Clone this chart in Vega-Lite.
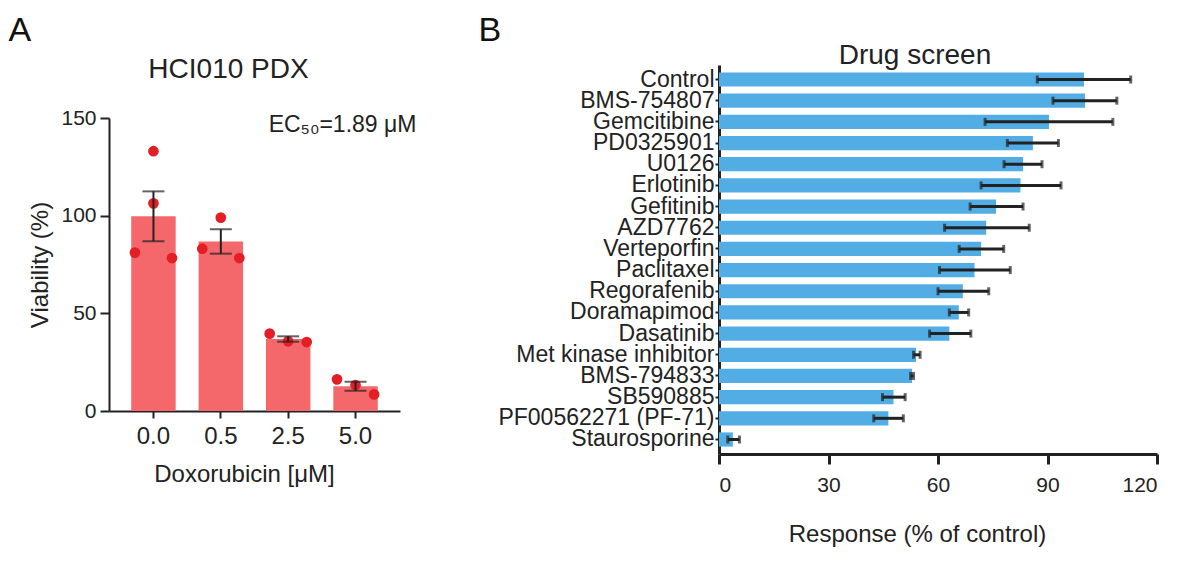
{
  "$schema": "https://vega.github.io/schema/vega-lite/v6.json",
  "background": "white",
  "padding": {"left": 8, "top": 13, "right": 10, "bottom": 10},
  "config": {
    "font": "Liberation Sans",
    "view": {"stroke": null},
    "axis": {"domainColor": "#222", "tickColor": "#222", "labelColor": "#222", "titleColor": "#222", "grid": false, "labelFont": "Liberation Sans", "titleFont": "Liberation Sans", "titleFontWeight": "normal"},
    "title": {"font": "Liberation Sans", "fontWeight": "normal", "color": "#222"}
  },
  "datasets": {
    "viability": [
      {"dose": "0.0", "pos": "C", "v": 133.0},
      {"dose": "0.0", "pos": "C", "v": 106.3},
      {"dose": "0.0", "pos": "L", "v": 81.1},
      {"dose": "0.0", "pos": "R", "v": 78.3},
      {"dose": "0.5", "pos": "C", "v": 99.0},
      {"dose": "0.5", "pos": "L", "v": 83.1},
      {"dose": "0.5", "pos": "R", "v": 78.3},
      {"dose": "2.5", "pos": "L", "v": 39.6},
      {"dose": "2.5", "pos": "C", "v": 35.7},
      {"dose": "2.5", "pos": "R", "v": 35.3},
      {"dose": "5.0", "pos": "L", "v": 16.2},
      {"dose": "5.0", "pos": "C", "v": 13.3},
      {"dose": "5.0", "pos": "R", "v": 8.5}
    ],
    "screen": [
      {"drug": "Control", "resp": 100.0, "lo": 87.2, "hi": 112.8},
      {"drug": "BMS-754807", "resp": 100.3, "lo": 91.5, "hi": 109.0},
      {"drug": "Gemcitibine", "resp": 90.4, "lo": 72.9, "hi": 107.9},
      {"drug": "PD0325901", "resp": 86.0, "lo": 79.0, "hi": 93.0},
      {"drug": "U0126", "resp": 83.3, "lo": 78.1, "hi": 88.5},
      {"drug": "Erlotinib", "resp": 82.6, "lo": 71.8, "hi": 93.7},
      {"drug": "Gefitinib", "resp": 75.9, "lo": 68.8, "hi": 83.3},
      {"drug": "AZD7762", "resp": 73.2, "lo": 61.8, "hi": 85.0},
      {"drug": "Verteporfin", "resp": 71.8, "lo": 65.8, "hi": 78.0},
      {"drug": "Paclitaxel", "resp": 70.0, "lo": 60.4, "hi": 79.8},
      {"drug": "Regorafenib", "resp": 66.8, "lo": 60.0, "hi": 73.9},
      {"drug": "Doramapimod", "resp": 65.7, "lo": 63.1, "hi": 68.4},
      {"drug": "Dasatinib", "resp": 63.1, "lo": 57.7, "hi": 69.0},
      {"drug": "Met kinase inhibitor", "resp": 54.0, "lo": 53.3, "hi": 55.1},
      {"drug": "BMS-794833", "resp": 52.9, "lo": 52.5, "hi": 53.3},
      {"drug": "SB590885", "resp": 47.8, "lo": 44.8, "hi": 51.0},
      {"drug": "PF00562271 (PF-71)", "resp": 46.4, "lo": 42.4, "hi": 50.5},
      {"drug": "Staurosporine", "resp": 3.8, "lo": 2.4, "hi": 5.6}
    ]
  },
  "spacing": 61,
  "hconcat": [
    {
      "spacing": 8,
      "vconcat": [
        {
          "width": 1,
          "height": 1,
          "data": {"values": [{"label": "A"}]},
          "mark": {"type": "text", "fontSize": 34, "align": "left", "baseline": "top", "dx": -101, "color": "#111"},
          "encoding": {"text": {"field": "label", "type": "nominal"}}
        },
        {
          "title": {"text": "HCI010 PDX", "fontSize": 28, "frame": "group", "dx": -26, "offset": 23},
          "width": 291,
          "height": 293,
          "data": {"name": "viability"},
          "resolve": {"scale": {"x": "independent", "xOffset": "independent"}},
          "layer": [
            {
              "mark": {"type": "bar", "color": "#F4686C"},
              "encoding": {
                "x": {
                  "field": "dose", "type": "ordinal", "sort": ["0.0", "0.5", "2.5", "5.0"],
                  "scale": {"paddingInner": 0.34, "paddingOuter": 0.33},
                  "title": "Doxorubicin [μM]",
                  "axis": {"labelAngle": 0, "tickSize": 7, "tickWidth": 2, "domainWidth": 2, "labelFontSize": 24, "labelPadding": 6, "titleFontSize": 24, "titlePadding": 14, "titleX": 135}
                },
                "y": {
                  "aggregate": "mean", "field": "v", "type": "quantitative",
                  "scale": {"domain": [0, 150], "nice": false},
                  "title": "Viability (%)",
                  "axis": {"values": [0, 50, 100, 150], "tickSize": 9, "tickWidth": 2, "domainWidth": 2, "labelFontSize": 21, "labelPadding": 4, "titleFontSize": 24, "titlePadding": 8}
                }
              }
            },
            {
              "mark": {"type": "point", "filled": true, "size": 115, "color": "#E41E25", "opacity": 1},
              "encoding": {
                "x": {"field": "dose", "type": "ordinal", "sort": ["0.0", "0.5", "2.5", "5.0"], "scale": {"paddingInner": 0.34, "paddingOuter": 0.33}, "axis": null},
                "xOffset": {"field": "pos", "type": "nominal", "scale": {"domain": ["L", "C", "R"], "paddingOuter": 0.2, "paddingInner": 0}},
                "y": {"field": "v", "type": "quantitative", "title": "Viability (%)"}
              }
            },
            {
              "mark": {"type": "errorbar", "extent": "stderr", "color": "#222", "thickness": 2, "ticks": {"size": 22}},
              "encoding": {
                "x": {"field": "dose", "type": "ordinal", "sort": ["0.0", "0.5", "2.5", "5.0"], "scale": {"paddingInner": 0.34, "paddingOuter": 0.33}, "axis": null},
                "y": {"field": "v", "type": "quantitative", "title": "Viability (%)"}
              }
            },
            {
              "data": {"values": [{"dose": "5.0", "v": 143, "t": "EC₅₀=1.89 μM"}]},
              "mark": {"type": "text", "fontSize": 23, "align": "center", "baseline": "alphabetic", "dx": -13, "color": "#222"},
              "encoding": {
                "x": {"field": "dose", "type": "ordinal", "sort": ["0.0", "0.5", "2.5", "5.0"], "scale": {"type": "band", "domain": ["0.0", "0.5", "2.5", "5.0"], "paddingInner": 0.34, "paddingOuter": 0.33}, "axis": null},
                "y": {"field": "v", "type": "quantitative", "title": "Viability (%)"},
                "text": {"field": "t", "type": "nominal"}
              }
            }
          ]
        }
      ]
    },
    {
      "spacing": -6,
      "vconcat": [
        {
          "width": 1,
          "height": 1,
          "data": {"values": [{"label": "B"}]},
          "mark": {"type": "text", "fontSize": 34, "align": "left", "baseline": "top", "dx": -241, "color": "#111"},
          "encoding": {"text": {"field": "label", "type": "nominal"}}
        },
        {
          "title": {"text": "Drug screen", "fontSize": 28, "frame": "group", "dx": -23, "offset": -5},
          "width": 438,
          "height": 389,
          "data": {"name": "screen"},
          "encoding": {
            "y": {
              "field": "drug", "type": "nominal", "sort": null,
              "scale": {"paddingInner": 0.33, "paddingOuter": 0.35},
              "title": null,
              "axis": {"tickSize": 4, "tickWidth": 2, "domainWidth": 3, "labelFontSize": 23, "labelPadding": 1, "labelLimit": 400, "labelOverlap": false}
            }
          },
          "layer": [
            {
              "mark": {"type": "bar", "color": "#52ADE5"},
              "encoding": {
                "x": {
                  "field": "resp", "type": "quantitative",
                  "scale": {"domain": [0, 120], "nice": false},
                  "title": "Response (% of control)",
                  "axis": {"values": [0, 30, 60, 90, 120], "tickSize": 10, "tickWidth": 3, "domainWidth": 3, "labelFontSize": 21, "labelPadding": 10, "titleFontSize": 24, "titlePadding": 27, "titleX": 198}
                }
              }
            },
            {
              "mark": {"type": "rule", "color": "#222", "strokeWidth": 3},
              "encoding": {
                "x": {"field": "lo", "type": "quantitative", "title": "Response (% of control)"},
                "x2": {"field": "hi"}
              }
            },
            {
              "mark": {"type": "tick", "color": "#222", "thickness": 3, "size": 8},
              "encoding": {"x": {"field": "lo", "type": "quantitative", "title": "Response (% of control)"}}
            },
            {
              "mark": {"type": "tick", "color": "#222", "thickness": 3, "size": 8},
              "encoding": {"x": {"field": "hi", "type": "quantitative", "title": "Response (% of control)"}}
            }
          ]
        }
      ]
    }
  ]
}
